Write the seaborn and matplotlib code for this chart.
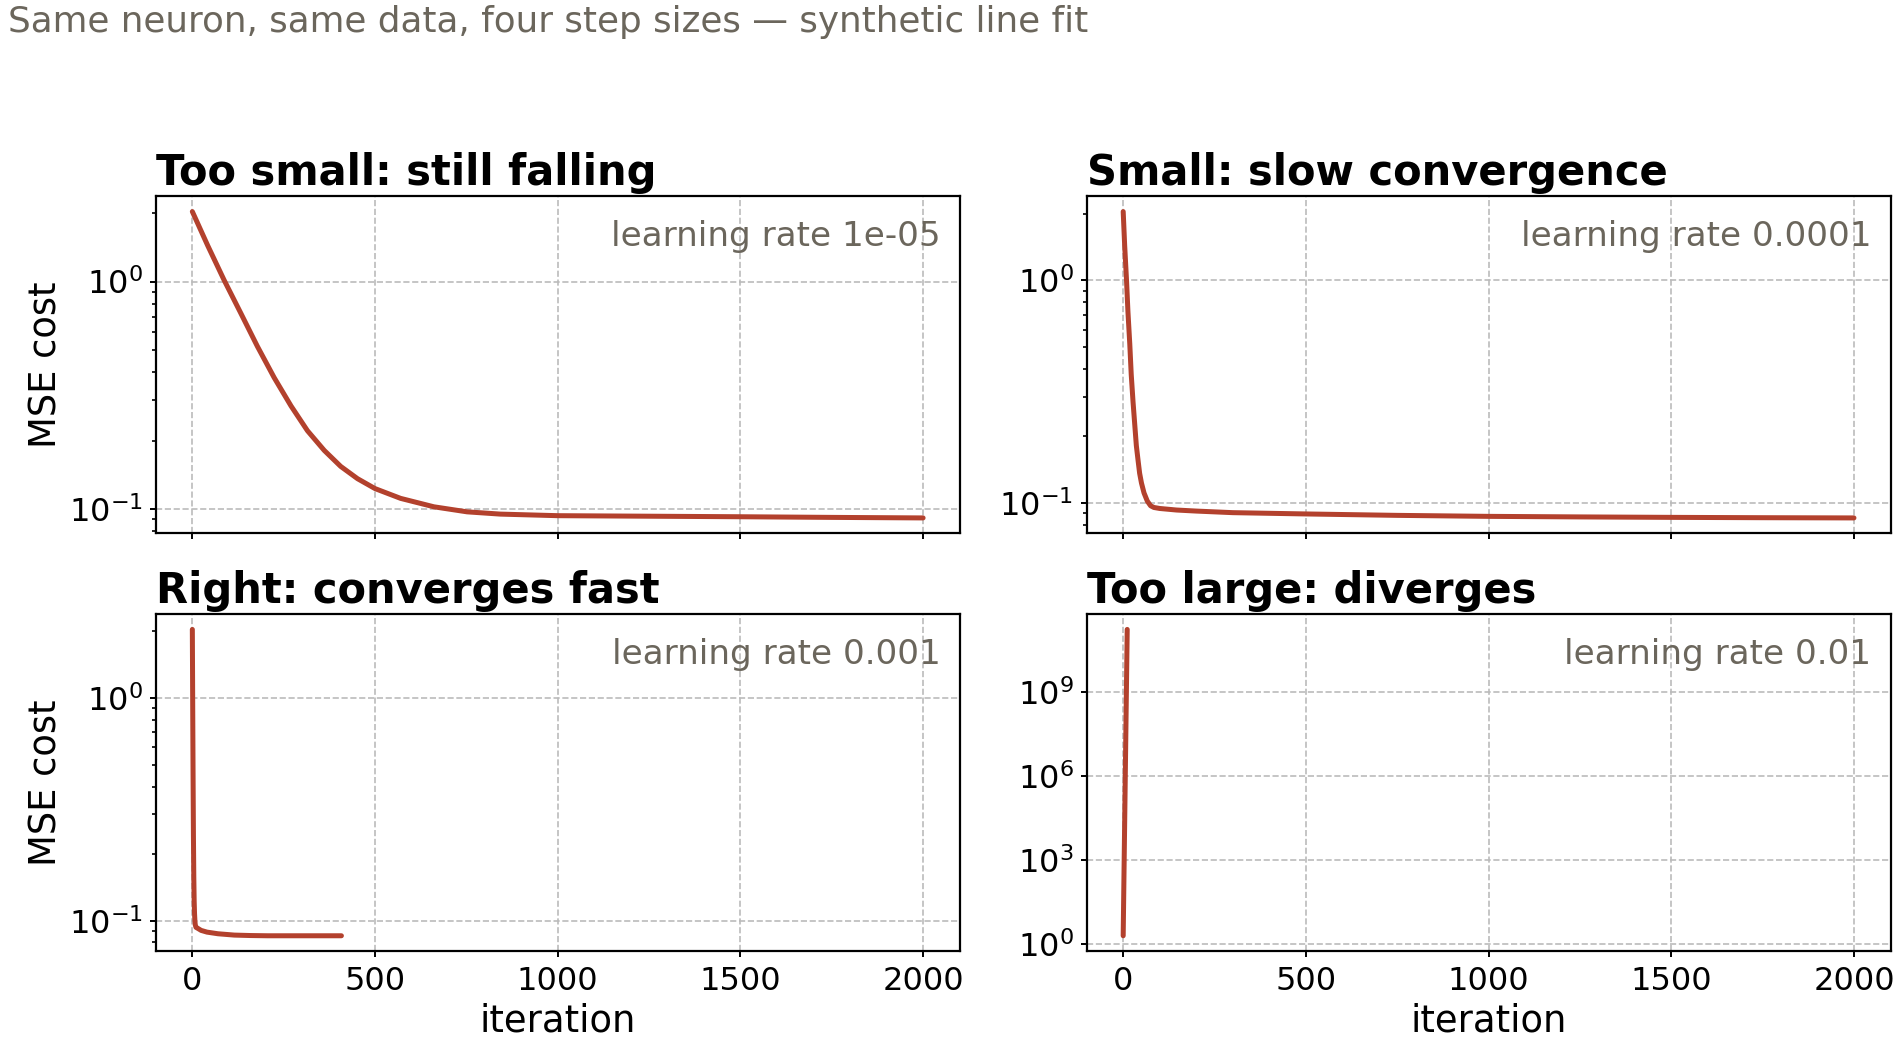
import numpy as np
import pandas as pd
import matplotlib
matplotlib.use("Agg")
import matplotlib.pyplot as plt
import matplotlib.ticker as mticker
import seaborn as sns

# ---- data ----
titles = ["Too small: still falling", "Small: slow convergence",
          "Right: converges fast", "Too large: diverges"]
rate_labels = ["learning rate 1e-05", "learning rate 0.0001",
               "learning rate 0.001", "learning rate 0.01"]

iter_a = [0, 42, 87, 133, 178, 224, 270, 315, 361, 406, 452, 500, 570, 661,
          752, 843, 1000, 1250, 1500, 1750, 2000]
cost_a = [2.03, 1.44, 1.014, 0.724, 0.519, 0.378, 0.284, 0.221, 0.181, 0.154,
          0.136, 0.123, 0.1114, 0.1023, 0.0972, 0.0950, 0.0935, 0.0930, 0.0925,
          0.0919, 0.0914]

iter_b = [0, 4, 9, 13, 18, 22, 27, 32, 36, 41, 45, 50, 57, 66, 75, 84, 100,
          146, 200, 300, 500, 750, 1000, 1250, 1500, 1750, 2000]
cost_b = [2.04, 1.44, 1.01, 0.724, 0.519, 0.378, 0.284, 0.221, 0.181, 0.154,
          0.136, 0.123, 0.111, 0.102, 0.0972, 0.0955, 0.0945, 0.0930, 0.0920,
          0.0905, 0.0893, 0.0880, 0.0871, 0.0866, 0.0862, 0.0859, 0.0857]

iter_c = [0, 1, 2, 3, 4, 5, 6, 7, 8, 10, 15, 24, 40, 70, 115, 160, 206, 300, 408]
cost_c = [2.03, 0.93, 0.45, 0.24, 0.157, 0.123, 0.108, 0.100, 0.096, 0.0935,
          0.0925, 0.0906, 0.0890, 0.0875, 0.0863, 0.0859, 0.0857, 0.0857, 0.0857]

iter_d = [0, 1, 2, 3, 4, 5, 6, 7, 8, 9, 10, 11]
cost_d = [2.03, 21.0, 2.1e2, 2.1e3, 2.0e4, 1.9e5, 1.9e6, 1.8e7, 1.8e8,
          1.8e9, 1.8e10, 1.7e11]

series = [(iter_a, cost_a), (iter_b, cost_b), (iter_c, cost_c), (iter_d, cost_d)]

LINE = "#b3412d"
GRAY = "#6b665c"

sns.set_style("ticks")
plt.rcParams["font.family"] = ["DejaVu Sans"]
plt.rcParams.update({"text.color": "black", "axes.labelcolor": "black",
                     "xtick.color": "black", "ytick.color": "black",
                     "axes.edgecolor": "black"})

fig, axes = plt.subplots(2, 2, figsize=(9.5, 5.22), dpi=200, sharex=True)
fig.subplots_adjust(left=0.082, right=0.995, top=0.812, bottom=0.089,
                    wspace=0.158, hspace=0.24)

for i, ax in enumerate(axes.flat):
    it, cost = series[i]
    df = pd.DataFrame({"iteration": it, "cost": cost})
    sns.lineplot(data=df, x="iteration", y="cost", ax=ax, color=LINE,
                 linewidth=1.8, estimator=None, sort=False)
    ax.set_yscale("log")
    ax.grid(True, which="major", linestyle="--", color="#bbbbbb", linewidth=0.6)
    ax.set_title(titles[i], loc="left", fontsize=15, fontweight="bold",
                 pad=4, color="black")
    ax.text(0.976, 0.93, rate_labels[i], transform=ax.transAxes, ha="right",
            va="top", fontsize=12.3, color=GRAY)
    ax.tick_params(labelsize=11.5, which="major", length=2.3, width=0.7)
    ax.tick_params(which="minor", length=1.3, width=0.6)
    ax.tick_params(axis="y", which="major", pad=2.5)
    ax.tick_params(axis="x", which="major", pad=3)
    for s in ax.spines.values():
        s.set_linewidth(0.8)
        s.set_color("black")
    if i % 2 == 0:
        ax.set_ylabel("MSE cost", fontsize=13.3, labelpad=1.5)
    else:
        ax.set_ylabel("")
    if i >= 2:
        ax.set_xlabel("iteration", fontsize=13.3, labelpad=2)
    else:
        ax.set_xlabel("")

axes[1, 1].yaxis.set_major_locator(mticker.FixedLocator([1, 1e3, 1e6, 1e9]))
axes[1, 1].yaxis.set_minor_locator(mticker.NullLocator())
axes[0, 0].set_xticks([0, 500, 1000, 1500, 2000])

fig.text(0.004, 0.995, "Same neuron, same data, four step sizes \u2014 synthetic line fit",
         ha="left", va="top", fontsize=12.9, color=GRAY)

fig.savefig("out.png", dpi=200)
